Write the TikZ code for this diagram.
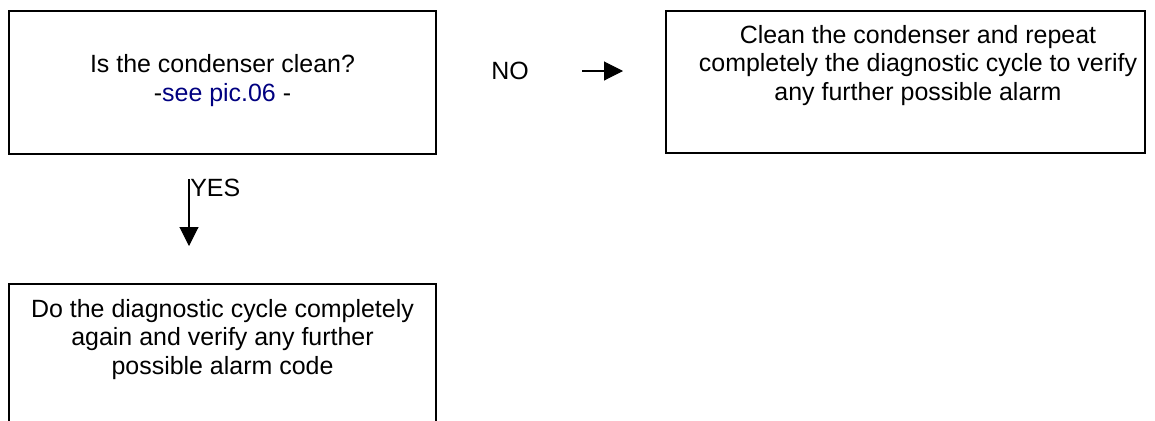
\documentclass[tikz,border=0pt]{standalone}
\usepackage{fontspec}
\setmainfont{Liberation Sans}
\usetikzlibrary{arrows.meta}
\definecolor{picblue}{RGB}{0,0,128}
\tikzset{
	box/.style={draw, line width=1.1pt, minimum width=8.54cm, minimum height=2.86cm, inner sep=0pt},
	txt/.style={align=center, inner sep=0pt},
	arr/.style={line width=0.6pt, -{Triangle[length=10.8pt, width=10.8pt]}},
}
\begin{document}
\begin{tikzpicture}[x=0.02cm, y=-0.02cm, font=\fontsize{14.2}{16.2}\selectfont]
	\useasboundingbox (0,0) rectangle (1155,420);
	\clip (0,0) rectangle (1155,420);
	% Kaesten
	\node[box] (check) at (222.5,82.5) {};
	\node[txt] (checktxt) at (222.5,80.5) {Is the condenser clean?\\-\textcolor{picblue}{see pic.06} -};
	\node[box, minimum width=9.58cm, minimum height=2.84cm] (clean) at (905.5,82) {};
	\node[txt, anchor=north] (cleantxt) at (918,25)
		{Clean the condenser and repeat\\completely the diagnostic cycle to verify\\any further possible alarm};
	\node[box, minimum height=2.8cm] (again) at (222.5,354) {};
	\node[txt, anchor=north] (againtxt) at (222.5,299)
		{Do the diagnostic cycle completely\\again and verify any further\\possible alarm code};

	% Pfeile
	\coordinate (yesA) at (189,179);
	\coordinate (yesB) at (189,246);
	\coordinate (noA) at (582,71);
	\coordinate (noB) at (623,71);
	\draw[arr] (yesA) -- (yesB);
	\draw[arr] (noA) -- (noB);
	\node[anchor=base west, inner sep=0pt] (yes) at (190,196) {YES};
	\node[anchor=base, inner sep=0pt] (no) at (510,79) {NO};
\end{tikzpicture}
\end{document}
